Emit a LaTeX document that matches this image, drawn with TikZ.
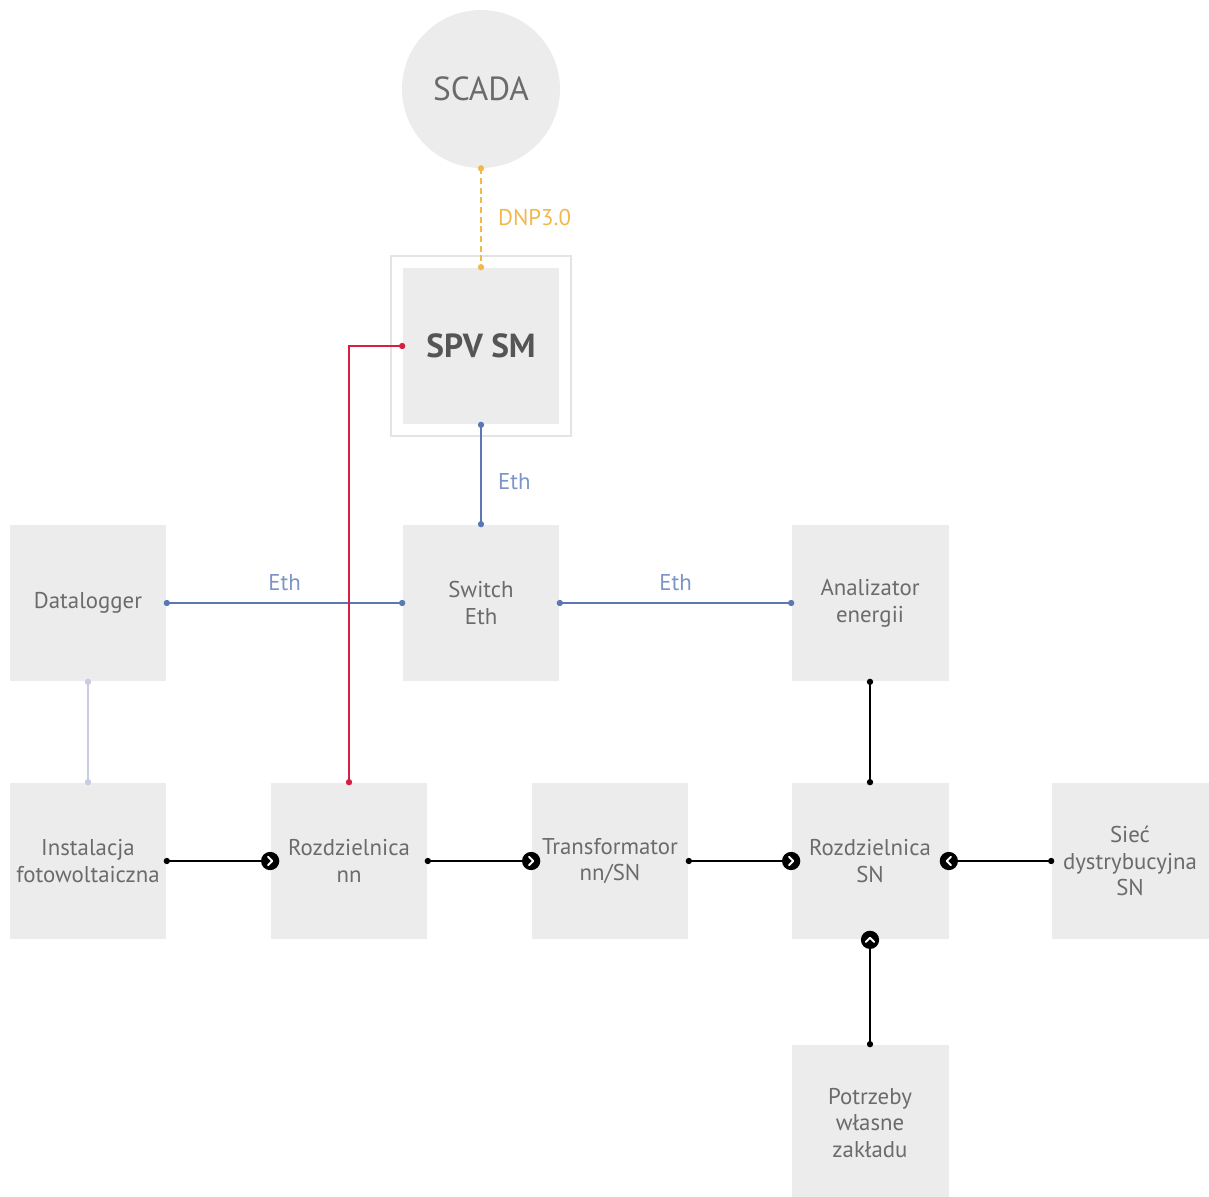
\documentclass[tikz,border=0pt]{standalone}
\usepackage{fontspec}
\setmainfont{PT Sans}
\usepackage{tikz}
\usetikzlibrary{positioning}
\definecolor{boxgray}{HTML}{ECECEC}
\definecolor{framegray}{HTML}{E4E4E4}
\definecolor{txtgray}{HTML}{6B6B6B}
\definecolor{spvgray}{HTML}{555555}
\definecolor{dnporange}{HTML}{F2B84B}
\definecolor{ethblue}{HTML}{5B78B5}
\definecolor{ethlabel}{HTML}{7C94C6}
\definecolor{pvred}{HTML}{D61F45}
\definecolor{lavender}{HTML}{C9CBE3}

\begin{document}
\begin{tikzpicture}[x=0.02cm, y=-0.02cm,
  every node/.style={font=\fontsize{13}{15.3}\selectfont, text=txtgray},
  blok/.style={fill=boxgray, minimum width=3.14cm, minimum height=3.14cm, align=center, inner sep=0pt},
  ethline/.style={draw=ethblue, line width=0.85pt},
  czarna/.style={draw=black, line width=0.85pt},
  kropka/.pic={\fill[#1] (0,0) circle (1.8pt);},
  strzalka/.pic={\fill[black] (0,0) circle (5.2pt);
    \draw[white, line width=1.1pt, line cap=round, line join=round] (-1.2pt,2.4pt) -- (1.2pt,0pt) -- (-1.2pt,-2.4pt);}
]
\useasboundingbox (0,0) rectangle (1209,1196);

% gorna czesc
\node[circle, fill=boxgray, minimum size=3.16cm, font=\fontsize{19}{22}\selectfont] (scada) at (481,89) {SCADA};
\node[draw=framegray, line width=1.2pt, minimum size=3.6cm] (ramka) at (481,346) {};
\node[blok, font=\bfseries\fontsize{19}{22}\selectfont, text=spvgray] (spv) at (481,346) {SPV SM};

\node[blok] (sw) at (481,603) {Switch\\Eth};
\node[blok] (dlog) at (88,603) {Datalogger};
\node[blok] (anal) at (870,603) {Analizator\\energii};

% dolny rzad
\node[blok] (inst) at (88,861) {Instalacja\\fotowoltaiczna};
\node[blok] (rnn) at (349,861) {Rozdzielnica\\nn};
\node[blok] (trafo) at (610,861) {Transformator\\nn/SN};
\node[blok] (rsn) at (870,861) {Rozdzielnica\\SN};
\node[blok] (siec) at (1130,861) {Sieć\\dystrybucyjna\\SN};
\node[blok] (potrz) at (870,1123) {Potrzeby\\własne\\zakładu};

% komunikacja
\draw[draw=dnporange, line width=0.85pt, dash pattern=on 3.5pt off 2pt]
	(scada.south) -- node[right=6pt, text=dnporange]{DNP3.0} (spv.north)
	pic[pos=0]{kropka=dnporange} pic[pos=1]{kropka=dnporange};
\draw[ethline] (spv.south) -- node[pos=0.57, right=6pt, text=ethlabel]{Eth} (sw.north)
	pic[pos=0]{kropka=ethblue} pic[pos=1]{kropka=ethblue};
\draw[ethline] (dlog.east) -- node[above=3pt, text=ethlabel]{Eth} (sw.west)
	pic[pos=0]{kropka=ethblue} pic[pos=1]{kropka=ethblue};
\draw[ethline] (sw.east) -- node[above=3pt, text=ethlabel]{Eth} (anal.west)
	pic[pos=0]{kropka=ethblue} pic[pos=1]{kropka=ethblue};
\draw[draw=pvred, line width=0.85pt] (spv.west) -| (rnn.north)
	pic[pos=0]{kropka=pvred} pic[pos=1]{kropka=pvred};
\draw[draw=lavender, line width=0.85pt] (dlog.south) -- (inst.north)
	pic[pos=0]{kropka=lavender} pic[pos=1]{kropka=lavender};
\draw[czarna] (anal.south) -- (rsn.north)
	pic[pos=0]{kropka=black} pic[pos=1]{kropka=black};

% przeplyw energii
\draw[czarna] (inst.east) -- (rnn.west)
	pic[pos=0]{kropka=black} pic[pos=1, sloped, allow upside down]{strzalka};
\draw[czarna] (rnn.east) -- (trafo.west)
	pic[pos=0]{kropka=black} pic[pos=1, sloped, allow upside down]{strzalka};
\draw[czarna] (trafo.east) -- (rsn.west)
	pic[pos=0]{kropka=black} pic[pos=1, sloped, allow upside down]{strzalka};
\draw[czarna] (siec.west) -- (rsn.east)
	pic[pos=0]{kropka=black} pic[pos=1, sloped, allow upside down]{strzalka};
\draw[czarna] (potrz.north) -- (rsn.south)
	pic[pos=0]{kropka=black} pic[pos=1, sloped, allow upside down]{strzalka};
\end{tikzpicture}
\end{document}
